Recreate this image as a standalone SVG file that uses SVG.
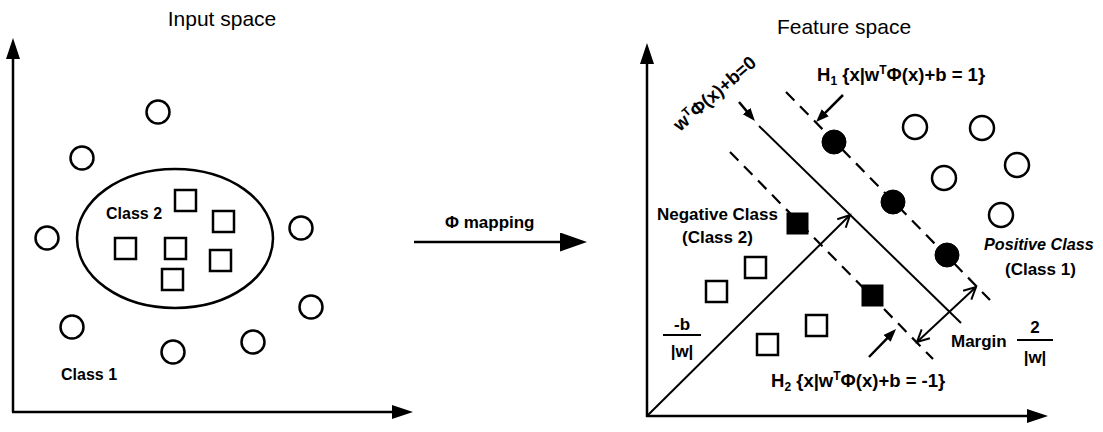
<svg xmlns="http://www.w3.org/2000/svg" width="1103" height="432" viewBox="0 0 1103 432">
<style>
text{font-family:"Liberation Sans",Arial,sans-serif;fill:#000}
.title{font-size:21px}
.lbl{font-size:17px;font-weight:bold}
.eq{font-size:18.5px;font-weight:bold}
.cls{font-size:16px;font-weight:bold}
.ln{stroke:#000;stroke-width:2.5;fill:none}
.thin{stroke:#000;stroke-width:2;fill:none}
.dash{stroke:#000;stroke-width:2.2;fill:none;stroke-dasharray:12 8}
.hc{fill:#fff;stroke:#000;stroke-width:2.5}
.fc{fill:#000;stroke:#000;stroke-width:1}
.sup{font-size:12px}
</style>
<defs>
<marker id="axis" markerUnits="userSpaceOnUse" markerWidth="22" markerHeight="16" refX="8" refY="7" orient="auto"><path d="M0,0 L21,7 L0,14 z" fill="#000"/></marker>
<marker id="big" markerUnits="userSpaceOnUse" markerWidth="28" markerHeight="20" refX="8" refY="9.5" orient="auto"><path d="M0,0 L27,9.5 L0,19 z" fill="#000"/></marker>
<marker id="small" markerUnits="userSpaceOnUse" markerWidth="14" markerHeight="11" refX="5" refY="5" orient="auto"><path d="M0,0 L13,5 L0,10 z" fill="#000"/></marker>
<marker id="open" markerUnits="userSpaceOnUse" markerWidth="16" markerHeight="16" refX="13" refY="7" orient="auto-start-reverse"><path d="M1,1 L13,7 L1,13" fill="none" stroke="#000" stroke-width="2"/></marker>
</defs>

<g id="connectors">
<line class="ln" x1="13" y1="412" x2="13" y2="51" marker-end="url(#axis)"/>
<line class="ln" x1="12" y1="412" x2="400" y2="412" marker-end="url(#axis)"/>
<line class="ln" x1="414" y1="242" x2="568" y2="242" marker-end="url(#big)"/>
<line class="ln" x1="647" y1="417" x2="647" y2="56" marker-end="url(#axis)"/>
<line class="ln" x1="646" y1="416" x2="1035" y2="416" marker-end="url(#axis)"/>
<line class="thin" x1="759" y1="126" x2="961" y2="323"/>
<line class="dash" x1="786" y1="92" x2="990" y2="300"/>
<line class="dash" x1="730" y1="152" x2="933" y2="359"/>
<line class="thin" x1="648" y1="415" x2="850" y2="215" marker-end="url(#open)"/>
<line class="thin" x1="917" y1="342" x2="976" y2="287" marker-start="url(#open)" marker-end="url(#open)"/>
<line class="ln" x1="843" y1="95" x2="821.7" y2="116.3" marker-end="url(#small)"/>
<line class="ln" x1="739" y1="102" x2="749.8" y2="114.9" marker-end="url(#small)"/>
<line class="ln" x1="869" y1="357" x2="890.5" y2="334.8" marker-end="url(#small)"/>
</g>

<g id="input-space">
<text class="title" x="222" y="26" text-anchor="middle">Input space</text>
<ellipse class="ln" cx="175" cy="238.5" rx="98" ry="69.5"/>
<g id="class1-points">
<circle class="hc" cx="158" cy="112" r="11.5"/>
<circle class="hc" cx="82" cy="158" r="11.5"/>
<circle class="hc" cx="47" cy="238" r="11.5"/>
<circle class="hc" cx="301" cy="228" r="11.5"/>
<circle class="hc" cx="72" cy="327" r="11.5"/>
<circle class="hc" cx="173" cy="352" r="11.5"/>
<circle class="hc" cx="253" cy="342" r="11.5"/>
<circle class="hc" cx="311" cy="307" r="11.5"/>
</g>
<g id="class2-points">
<rect class="hc" x="175" y="190" width="21" height="21"/>
<rect class="hc" x="213" y="211" width="21" height="21"/>
<rect class="hc" x="115" y="238" width="21" height="21"/>
<rect class="hc" x="165" y="238" width="21" height="21"/>
<rect class="hc" x="210" y="250" width="21" height="21"/>
<rect class="hc" x="162" y="269" width="21" height="21"/>
</g>
<text class="cls" x="106" y="219">Class 2</text>
<text class="cls" x="61" y="380">Class 1</text>
</g>

<g id="mapping">
<text class="lbl" x="445" y="228">Φ mapping</text>
</g>

<g id="feature-space">
<text class="title" x="844" y="34" text-anchor="middle">Feature space</text>
<g id="positive-points">
<circle class="hc" cx="915" cy="127" r="12"/>
<circle class="hc" cx="982" cy="128" r="12"/>
<circle class="hc" cx="944" cy="178" r="12"/>
<circle class="hc" cx="1017" cy="165" r="12"/>
<circle class="hc" cx="1001" cy="215" r="12"/>
<circle class="fc" cx="834" cy="142" r="12"/>
<circle class="fc" cx="893" cy="202" r="12"/>
<circle class="fc" cx="947" cy="255" r="12"/>
</g>
<g id="negative-points">
<rect class="hc" x="745" y="257" width="21" height="21"/>
<rect class="hc" x="706" y="281" width="21" height="21"/>
<rect class="hc" x="806" y="315" width="21" height="21"/>
<rect class="hc" x="757" y="334" width="21" height="21"/>
<rect class="fc" x="787" y="213" width="21" height="21"/>
<rect class="fc" x="862" y="285" width="21" height="21"/>
</g>
</g>

<g id="labels">
<text class="eq" x="817" y="81">H<tspan class="sup" dy="4">1</tspan><tspan dy="-4"> {x|w</tspan><tspan class="sup" dy="-7">T</tspan><tspan dy="7">Φ(x)+b = 1}</tspan></text>
<text class="eq" transform="translate(680,132) rotate(-41)">w<tspan class="sup" dy="-7">T</tspan><tspan dy="7">Φ(x)+b=0</tspan></text>
<text class="lbl" x="657" y="220">Negative Class</text>
<text class="lbl" x="682" y="243">(Class 2)</text>
<text class="lbl" x="984" y="250" style="font-size:16.2px;font-style:italic">Positive Class</text>
<text class="lbl" x="1005" y="275">(Class 1)</text>
<text class="lbl" x="682" y="330" text-anchor="middle">-b</text>
<line x1="663" y1="335" x2="701" y2="335" stroke="#000" stroke-width="2"/>
<text class="lbl" x="682" y="357" text-anchor="middle">|w|</text>
<text class="lbl" x="951" y="347">Margin</text>
<text class="lbl" x="1035" y="333" text-anchor="middle">2</text>
<line x1="1017" y1="340" x2="1053" y2="340" stroke="#000" stroke-width="2"/>
<text class="lbl" x="1035" y="363" text-anchor="middle">|w|</text>
<text class="eq" x="771" y="387">H<tspan class="sup" dy="4">2</tspan><tspan dy="-4"> {x|w</tspan><tspan class="sup" dy="-7">T</tspan><tspan dy="7">Φ(x)+b = -1}</tspan></text>
</g>
</svg>
